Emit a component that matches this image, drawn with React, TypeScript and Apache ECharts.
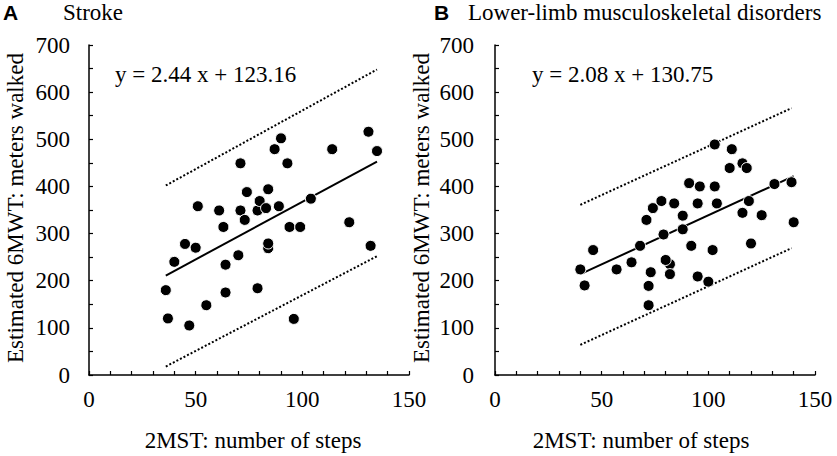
import React, { useEffect, useRef } from "react";
import * as echarts from "echarts";

// Panel A: Stroke
const strokeSteps = [36, 37, 40, 45, 47, 50, 51, 55, 61, 63, 64, 64, 70, 71, 71, 73, 74, 79, 79, 80, 83, 84, 84, 84, 87, 89, 90, 93, 94, 96, 99, 104, 114, 122, 131, 132, 135];
const strokeMeters = [180, 120, 240, 278, 105, 270, 358, 148, 349, 314, 234, 175, 254, 449, 349, 329, 388, 184, 349, 369, 354, 394, 269, 279, 479, 358, 502, 449, 314, 119, 314, 374, 479, 324, 516, 274, 475];
const strokeSlope = 2.44;
const strokeIntercept = 123.16;
const strokeUpper = [[36, 402], [135, 648]];
const strokeLower = [[36, 18], [135, 252]];

// Panel B: Lower-limb musculoskeletal disorders
const mskSteps = [40, 42, 46, 57, 64, 68, 71, 73, 72, 72, 74, 78, 79, 82, 80, 82, 84, 88, 88, 91, 92, 95, 95, 96, 100, 102, 103, 103, 104, 110, 111, 116, 116, 118, 119, 120, 125, 131, 139, 140];
const mskMeters = [224, 190, 265, 224, 239, 274, 329, 218, 189, 148, 354, 369, 298, 235, 244, 214, 364, 338, 309, 407, 274, 364, 209, 400, 198, 265, 489, 400, 364, 439, 479, 449, 344, 439, 369, 279, 339, 405, 409, 324];
const mskSlope = 2.08;
const mskIntercept = 130.75;
const mskUpper = [[40, 361], [139, 566]];
const mskLower = [[40, 64], [139, 269]];

const panelTitles = ["Stroke", "Lower-limb musculoskeletal disorders"];
const panelLetters = ["A", "B"];
const equations = ["y = 2.44 x + 123.16", "y = 2.08 x + 130.75"];
const xTitle = "2MST: number of steps";
const yTitle = "Estimated 6MWT: meters walked";

const SERIF = "'Liberation Serif', 'Times New Roman', serif";
const SANS = "'Liberation Sans', Arial, sans-serif";

function regLine(xs: number[], a: number, b: number) {
  const mn = Math.min(...xs);
  const mx = Math.max(...xs);
  return [[mn, a * mn + b], [mx, a * mx + b]];
}

export default function App() {
  const ref = useRef<HTMLDivElement>(null);
  useEffect(() => {
    if (!ref.current) return;
    const chart = echarts.init(ref.current, null, { renderer: "svg" });
    const lefts = [89, 495];
    const xAxisBase = (i: number) => ({
      type: "value",
      gridIndex: i,
      min: 0,
      max: 150,
      interval: 10,
      splitLine: { show: false },
      axisLine: { show: true, onZero: false, lineStyle: { color: "#000", width: 1.5 } },
      axisTick: { show: true, inside: true, length: 4, lineStyle: { color: "#000", width: 1.2 } },
      axisLabel: {
        color: "#000",
        fontFamily: SERIF,
        fontSize: 23,
        margin: 13,
        formatter: (v: number) => (v % 50 === 0 ? String(v) : ""),
      },
    });
    const yAxisBase = (i: number) => ({
      type: "value",
      gridIndex: i,
      min: 0,
      max: 700,
      interval: 50,
      splitLine: { show: false },
      axisLine: { show: true, onZero: false, lineStyle: { color: "#000", width: 1.5 } },
      axisTick: { show: true, inside: true, length: 4, lineStyle: { color: "#000", width: 1.2 } },
      axisLabel: {
        color: "#000",
        fontFamily: SERIF,
        fontSize: 23,
        margin: i === 0 ? 19 : 21,
        formatter: (v: number) => (v % 100 === 0 ? String(v) : ""),
      },
    });
    const scatter = (i: number, xs: number[], ys: number[]) => ({
      type: "scatter",
      xAxisIndex: i,
      yAxisIndex: i,
      data: xs.map((x, k) => [x, ys[k]]),
      symbol: "circle",
      symbolSize: 11,
      itemStyle: { color: "#000", borderColor: "#fff", borderWidth: 1, opacity: 1 },
      z: 5,
    });
    const line = (i: number, data: number[][], dotted: boolean) => ({
      type: "line",
      xAxisIndex: i,
      yAxisIndex: i,
      data,
      symbol: "none",
      lineStyle: { color: "#000", width: 2, type: dotted ? [2, 2] : "solid" },
      z: 3,
    });
    const titleTexts: any[] = [];
    [0, 1].forEach((i) => {
      const off = lefts[i] - lefts[0];
      titleTexts.push({
        type: "text",
        x: i === 0 ? 3 : 434,
        y: 12,
        style: { text: panelLetters[i], font: `bold 21px ${SANS}`, fill: "#000", textVerticalAlign: "middle" },
      });
      titleTexts.push({
        type: "text",
        x: i === 0 ? 63 : 468,
        y: 12,
        style: { text: panelTitles[i], font: `23px ${SERIF}`, fill: "#000", textVerticalAlign: "middle" },
      });
      titleTexts.push({
        type: "text",
        x: i === 0 ? 115 : 532,
        y: 74,
        style: { text: equations[i], font: `23px ${SERIF}`, fill: "#000", textVerticalAlign: "middle" },
      });
      titleTexts.push({
        type: "text",
        x: i === 0 ? 253 : 641,
        y: 440,
        style: { text: xTitle, font: `23px ${SERIF}`, fill: "#000", textAlign: "center", textVerticalAlign: "middle" },
      });
      titleTexts.push({
        type: "text",
        x: 15 + off,
        y: 208,
        rotation: Math.PI / 2,
        style: { text: yTitle, font: `23px ${SERIF}`, fill: "#000", textAlign: "center", textVerticalAlign: "middle" },
      });
    });
    chart.setOption({
      animation: false,
      backgroundColor: "#fff",
      grid: [
        { left: lefts[0], top: 45, width: 320, height: 330 },
        { left: lefts[1], top: 45, width: 320, height: 330 },
      ],
      xAxis: [xAxisBase(0), xAxisBase(1)],
      yAxis: [yAxisBase(0), yAxisBase(1)],
      series: [
        line(0, regLine(strokeSteps, strokeSlope, strokeIntercept), false),
        line(0, strokeUpper, true),
        line(0, strokeLower, true),
        scatter(0, strokeSteps, strokeMeters),
        line(1, regLine(mskSteps, mskSlope, mskIntercept), false),
        line(1, mskUpper, true),
        line(1, mskLower, true),
        scatter(1, mskSteps, mskMeters),
      ],
      graphic: titleTexts,
    });
    return () => chart.dispose();
  }, []);
  return (
    <div
      ref={ref}
      style={{ position: "fixed", left: 0, top: 0, width: 837, height: 456, background: "#fff" }}
    />
  );
}
